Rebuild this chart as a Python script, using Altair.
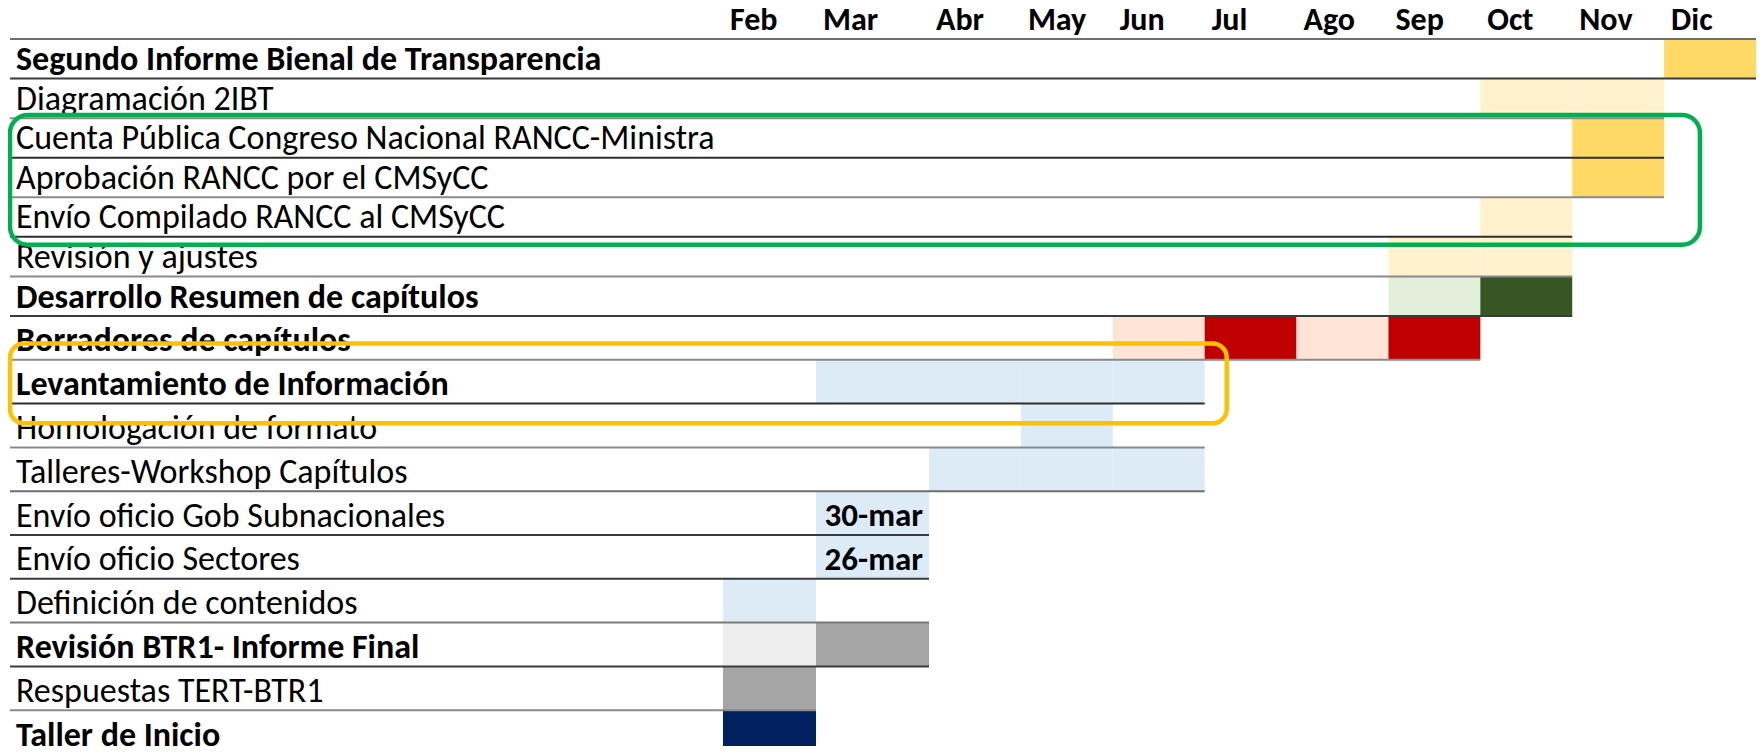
import altair as alt
import pandas as pd

# ---------------- data ----------------
months = ["Feb", "Mar", "Abr", "May", "Jun", "Jul", "Ago", "Sep", "Oct", "Nov", "Dic"]

tasks = [
    "Segundo Informe Bienal de Transparencia",
    "Diagramación 2IBT",
    "Cuenta Pública Congreso Nacional RANCC-Ministra",
    "Aprobación RANCC por el CMSyCC",
    "Envío Compilado RANCC al CMSyCC",
    "Revisión y ajustes",
    "Desarrollo Resumen de capítulos",
    "Borradores de capítulos",
    "Levantamiento de Información",
    "Homologación de formato",
    "Talleres-Workshop Capítulos",
    "Envío oficio Gob Subnacionales",
    "Envío oficio Sectores",
    "Definición de contenidos",
    "Revisión BTR1- Informe Final",
    "Respuestas TERT-BTR1",
    "Taller de Inicio",
]
task_bold = [True, False, False, False, False, False, True, True, True,
             False, False, False, False, False, True, False, True]

# filled cells: task, month, colour
cell_task = [
    "Segundo Informe Bienal de Transparencia",
    "Diagramación 2IBT", "Diagramación 2IBT",
    "Cuenta Pública Congreso Nacional RANCC-Ministra",
    "Aprobación RANCC por el CMSyCC",
    "Envío Compilado RANCC al CMSyCC",
    "Revisión y ajustes", "Revisión y ajustes",
    "Desarrollo Resumen de capítulos", "Desarrollo Resumen de capítulos",
    "Borradores de capítulos", "Borradores de capítulos", "Borradores de capítulos", "Borradores de capítulos",
    "Levantamiento de Información", "Levantamiento de Información", "Levantamiento de Información", "Levantamiento de Información",
    "Homologación de formato",
    "Talleres-Workshop Capítulos", "Talleres-Workshop Capítulos", "Talleres-Workshop Capítulos",
    "Envío oficio Gob Subnacionales",
    "Envío oficio Sectores",
    "Definición de contenidos",
    "Revisión BTR1- Informe Final", "Revisión BTR1- Informe Final",
    "Respuestas TERT-BTR1",
    "Taller de Inicio",
]
cell_month = [
    "Dic",
    "Oct", "Nov",
    "Nov",
    "Nov",
    "Oct",
    "Sep", "Oct",
    "Sep", "Oct",
    "Jun", "Jul", "Ago", "Sep",
    "Mar", "Abr", "May", "Jun",
    "May",
    "Abr", "May", "Jun",
    "Mar",
    "Mar",
    "Feb",
    "Feb", "Mar",
    "Feb",
    "Feb",
]
cell_color = [
    "#FFD966",
    "#FFF2CC", "#FFF2CC",
    "#FFD966",
    "#FFD966",
    "#FFF2CC",
    "#FFF2CC", "#FFF2CC",
    "#E2EFDA", "#375623",
    "#FCE4D6", "#C00000", "#FCE4D6", "#C00000",
    "#DDEBF7", "#DDEBF7", "#DDEBF7", "#DDEBF7",
    "#DDEBF7",
    "#DDEBF7", "#DDEBF7", "#DDEBF7",
    "#DDEBF7",
    "#DDEBF7",
    "#DDEBF7",
    "#EDEDED", "#A5A5A5",
    "#A5A5A5",
    "#002060",
]

# date notes written inside cells
note_task = ["Envío oficio Gob Subnacionales", "Envío oficio Sectores"]
note_month = ["Mar", "Mar"]
note_text = ["30-mar", "26-mar"]

# table border under the header and under each task row: last month reached, shade
border_end_month = ["Dic", "Dic", "Nov", "Nov", "Nov", "Oct", "Oct", "Oct", "Sep",
                    "Jun", "Jun", "Jun", "Mar", "Mar", "Mar", "Mar", "Feb"]
border_shade = ["#6e6e6e", "#3b3b3b", "#8a8a8a", "#2e2e2e", "#8a8a8a", "#2e2e2e", "#8a8a8a",
                "#3b3b3b", "#8a8a8a", "#2e2e2e", "#8a8a8a", "#6e6e6e", "#3b3b3b", "#3b3b3b",
                "#7a7a7a", "#3b3b3b", "#8a8a8a"]

# highlight frames (column / row units of the sheet)
frame_x = [0.0, 0.0]
frame_x2 = [11.39, 6.24]
frame_y = [2.92, 8.63]
frame_y2 = [6.20, 10.45]
frame_color = ["#00B050", "#FFC000"]

# ---------------- tables ----------------
FONT = "Carlito, Calibri, 'Liberation Sans Narrow', sans-serif"
mi = {m: i + 1 for i, m in enumerate(months)}      # Feb column starts at 1
ti = {t: i + 1 for i, t in enumerate(tasks)}       # first task row starts at 1

cells = pd.DataFrame({
    "x": [mi[m] for m in cell_month],
    "x2": [mi[m] + 1 for m in cell_month],
    "y": [ti[t] for t in cell_task],
    "y2": [ti[t] + 1 for t in cell_task],
    "color": cell_color,
})
# text sits on the bottom of its row (Excel bottom alignment)
labels = pd.DataFrame({
    "x": [0] * len(tasks),
    "y": [ti[t] + 1 for t in tasks],
    "text": tasks,
    "bold": task_bold,
})
header = pd.DataFrame({"x": [mi[m] for m in months], "y": [1] * len(months), "text": months})
notes = pd.DataFrame({
    "x": [mi[m] + 1 for m in note_month],
    "y": [ti[t] + 1 for t in note_task],
    "text": note_text,
})
borders = pd.DataFrame({
    "x": [0] * len(border_end_month),
    "x2": [mi[m] + 1 for m in border_end_month],
    "y": list(range(1, len(border_end_month) + 1)),
    "color": border_shade,
})
frames = pd.DataFrame({"x": frame_x, "x2": frame_x2, "y": frame_y, "y2": frame_y2,
                       "color": frame_color})

xs = alt.Scale(domain=[0, 1, 2, 3, 12], range=[2, 715, 808, 921, 1748], nice=False, zero=False)
ys = alt.Scale(domain=[0, 1, 8, 18], range=[-8, 31, 308, 746], nice=False, zero=False)


def X(f="x"):
    return alt.X(f"{f}:Q", scale=xs, axis=None)


def Y(f="y"):
    return alt.Y(f"{f}:Q", scale=ys, axis=None)


cell_layer = alt.Chart(cells).mark_rect(strokeWidth=0).encode(
    x=X(), x2="x2:Q", y=Y(), y2="y2:Q", color=alt.Color("color:N", scale=None)
)
border_layer = alt.Chart(borders).mark_rule(strokeWidth=2).encode(
    x=X(), x2="x2:Q", y=Y(), color=alt.Color("color:N", scale=None)
)
label_normal = alt.Chart(labels[~labels["bold"]]).mark_text(
    align="left", baseline="alphabetic", dx=6, dy=-8.5, fontSize=34, font=FONT, color="black"
).encode(x=X(), y=Y(), text="text:N")
label_bold = alt.Chart(labels[labels["bold"]]).mark_text(
    align="left", baseline="alphabetic", dx=6, dy=-8.5, fontSize=34, font=FONT, fontWeight="bold", color="black"
).encode(x=X(), y=Y(), text="text:N")
header_layer = alt.Chart(header).mark_text(
    align="left", baseline="alphabetic", dx=7, dy=-9, fontSize=32, font=FONT, fontWeight="bold", color="black"
).encode(x=X(), y=Y(), text="text:N")
note_layer = alt.Chart(notes).mark_text(
    align="right", baseline="alphabetic", dx=-6, dy=-9, fontSize=33, font=FONT, fontWeight="bold", color="black"
).encode(x=X(), y=Y(), text="text:N")
frame_green = alt.Chart(frames.iloc[[0]]).mark_rect(
    fillOpacity=0, strokeWidth=4.5, cornerRadius=18
).encode(x=X(), x2="x2:Q", y=Y(), y2="y2:Q", stroke=alt.Color("color:N", scale=None))
frame_gold = alt.Chart(frames.iloc[[1]]).mark_rect(
    fillOpacity=0, strokeWidth=4.5, cornerRadius=14
).encode(x=X(), x2="x2:Q", y=Y(), y2="y2:Q", stroke=alt.Color("color:N", scale=None))

chart = alt.layer(
    cell_layer, border_layer, label_normal, label_bold, header_layer, note_layer,
    frame_green, frame_gold
).properties(
    width=1748, height=738, padding=0, background="white",
    autosize=alt.AutoSizeParams(type="none"),
).configure_view(stroke=None)

chart.save("out.html", embed_options={"renderer": "svg", "actions": False})
